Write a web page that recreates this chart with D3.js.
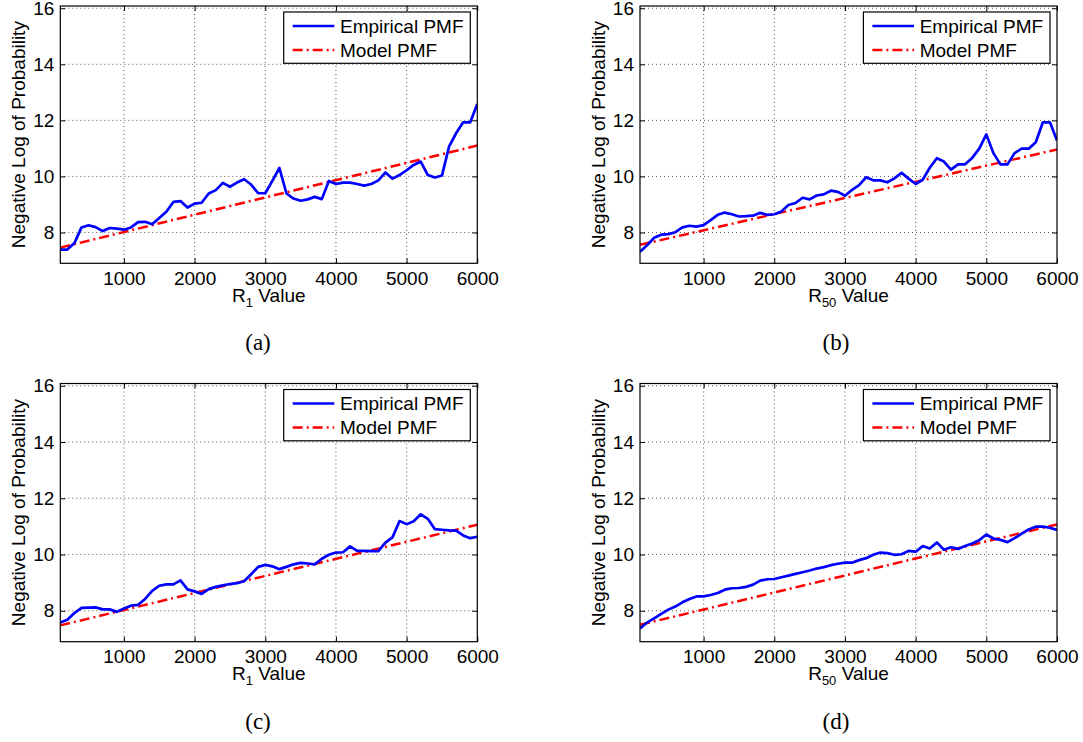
<!DOCTYPE html>
<html>
<head>
<meta charset="utf-8">
<script src="https://cdn.jsdelivr.net/npm/d3@7"></script>
<style>
  html, body { margin: 0; padding: 0; background: #fff; }
  svg { display: block; }
  text { font-family: "Liberation Sans", Arial, Helvetica, sans-serif; fill: #000; }
</style>
</head>
<body>
<svg id="chart" width="1083" height="742"></svg>
<script>
// ---------- data ----------
const rValues = [100,200,300,400,500,600,700,800,900,1000,
  1100,1200,1300,1400,1500,1600,1700,1800,1900,2000,
  2100,2200,2300,2400,2500,2600,2700,2800,2900,3000,
  3100,3200,3300,3400,3500,3600,3700,3800,3900,4000,
  4100,4200,4300,4400,4500,4600,4700,4800,4900,5000,
  5100,5200,5300,5400,5500,5600,5700,5800,5900,6000];

const empiricalA = [7.39,7.39,7.62,8.18,8.26,8.19,8.05,8.16,8.14,8.10,
  8.18,8.37,8.38,8.29,8.52,8.74,9.09,9.12,8.89,9.03,
  9.06,9.39,9.51,9.77,9.63,9.78,9.90,9.71,9.40,9.40,
  9.84,10.30,9.39,9.21,9.13,9.18,9.27,9.19,9.84,9.73,
  9.78,9.78,9.73,9.67,9.73,9.86,10.14,9.92,10.05,10.22,
  10.41,10.53,10.05,9.96,10.03,11.06,11.54,11.93,11.93,12.58];

const empiricalB = [7.31,7.54,7.81,7.92,7.94,8.01,8.18,8.24,8.21,8.26,
  8.44,8.63,8.71,8.65,8.57,8.58,8.60,8.70,8.63,8.65,
  8.75,8.98,9.05,9.24,9.18,9.32,9.36,9.49,9.45,9.31,
  9.52,9.69,9.97,9.86,9.86,9.79,9.93,10.13,9.92,9.73,
  9.88,10.31,10.65,10.53,10.24,10.43,10.43,10.66,10.99,11.50,
  10.83,10.43,10.43,10.83,10.99,10.99,11.22,11.93,11.93,11.28];

const empiricalC = [7.58,7.68,7.92,8.10,8.11,8.12,8.05,8.05,7.96,8.08,
  8.18,8.21,8.42,8.71,8.89,8.94,8.94,9.08,8.76,8.69,
  8.60,8.77,8.85,8.90,8.95,8.98,9.05,9.30,9.56,9.63,
  9.58,9.48,9.56,9.65,9.70,9.68,9.65,9.85,9.99,10.07,
  10.08,10.29,10.13,10.13,10.12,10.12,10.42,10.61,11.19,11.08,
  11.18,11.43,11.27,10.90,10.88,10.86,10.85,10.68,10.58,10.63];

const empiricalD = [7.37,7.58,7.73,7.89,8.04,8.15,8.30,8.42,8.51,8.51,
  8.56,8.63,8.75,8.80,8.81,8.85,8.93,9.07,9.12,9.13,
  9.19,9.25,9.31,9.37,9.43,9.50,9.55,9.62,9.67,9.71,
  9.71,9.80,9.87,9.99,10.07,10.05,9.99,10.01,10.13,10.10,
  10.30,10.21,10.43,10.17,10.26,10.20,10.30,10.39,10.51,10.71,
  10.57,10.52,10.44,10.58,10.74,10.89,10.99,10.99,10.95,10.87];

const modelX = [100, 6000];
const modelA = [7.46, 11.10];
const modelB = [7.56, 10.96];
const modelC = [7.48, 11.06];
const modelD = [7.50, 11.07];

const xTicks = [1000, 2000, 3000, 4000, 5000, 6000];
const yTicks = [8, 10, 12, 14, 16];
const seriesNames = ["Empirical PMF", "Model PMF"];
const xLabelSub = ["1", "50", "1", "50"];
const captions = ["(a)", "(b)", "(c)", "(d)"];
const yLabel = "Negative Log of Probability";

// ---------- layout ----------
const svg = d3.select("#chart");
const panels = [
  { emp: empiricalA, model: modelA, sub: xLabelSub[0], cap: captions[0], left: 60.3, right: 477.3, top: 6, bottom: 263.3, capX: 258, capY: 350 },
  { emp: empiricalB, model: modelB, sub: xLabelSub[1], cap: captions[1], left: 640, right: 1057, top: 6, bottom: 263.3, capX: 836, capY: 350 },
  { emp: empiricalC, model: modelC, sub: xLabelSub[2], cap: captions[2], left: 60.3, right: 477.3, top: 383.5, bottom: 641.7, capX: 258, capY: 729 },
  { emp: empiricalD, model: modelD, sub: xLabelSub[3], cap: captions[3], left: 640, right: 1057, top: 383.5, bottom: 641.7, capX: 836, capY: 729 }
];

panels.forEach(p => {
  const x = d3.scaleLinear().domain([100, 6000]).range([p.left, p.right]);
  const y = d3.scaleLinear().domain([6.9, 16.08]).range([p.bottom, p.top]);
  const g = svg.append("g");

  g.append("rect").attr("x", p.left).attr("y", p.top)
    .attr("width", p.right - p.left).attr("height", p.bottom - p.top)
    .attr("fill", "#fff");

  // grid
  const grid = g.append("g").attr("stroke", "#444").attr("stroke-width", 0.9)
    .attr("stroke-dasharray", "1,3");
  xTicks.filter(t => t < 6000).forEach(t => {
    grid.append("line").attr("x1", x(t)).attr("x2", x(t))
      .attr("y1", p.top).attr("y2", p.bottom);
  });
  yTicks.forEach(t => {
    grid.append("line").attr("x1", p.left).attr("x2", p.right)
      .attr("y1", y(t)).attr("y2", y(t));
  });

  const fs = "19px";
  const xAxis = g.append("g").attr("transform", `translate(0,${p.bottom})`)
    .call(d3.axisBottom(x).tickValues(xTicks).tickSizeInner(-5).tickSizeOuter(0).tickPadding(8).tickFormat(d3.format("d")));
  const yAxis = g.append("g").attr("transform", `translate(${p.left},0)`)
    .call(d3.axisLeft(y).tickValues(yTicks).tickSizeInner(-5).tickSizeOuter(0).tickPadding(6).tickFormat(d3.format("d")));
  const xAxisTop = g.append("g").attr("transform", `translate(0,${p.top})`)
    .call(d3.axisTop(x).tickValues(xTicks).tickSizeInner(-5).tickSizeOuter(0).tickFormat(""));
  const yAxisRight = g.append("g").attr("transform", `translate(${p.right},0)`)
    .call(d3.axisRight(y).tickValues(yTicks).tickSizeInner(-5).tickSizeOuter(0).tickFormat(""));
  [xAxis, yAxis, xAxisTop, yAxisRight].forEach(a => {
    a.select(".domain").remove();
    a.selectAll("line").attr("stroke", "#000").attr("stroke-width", 1);
    a.selectAll("text").style("font-size", fs).style("font-family", '"Liberation Sans", Arial, sans-serif').attr("fill", "#000");
  });

  const clipId = "clip" + p.cap.replace(/[()]/g, "");
  svg.append("clipPath").attr("id", clipId).append("rect")
    .attr("x", p.left).attr("y", p.top).attr("width", p.right - p.left).attr("height", p.bottom - p.top);

  const line = d3.line().x(d => x(d[0])).y(d => y(d[1]));
  g.append("path").datum(modelX.map((v, i) => [v, p.model[i]]))
    .attr("clip-path", `url(#${clipId})`)
    .attr("d", line).attr("fill", "none").attr("stroke", "#ff0000")
    .attr("stroke-width", 2.5).attr("stroke-dasharray", "10,4,2,4");

  g.append("path").datum(rValues.map((v, i) => [v, p.emp[i]]))
    .attr("clip-path", `url(#${clipId})`)
    .attr("d", line).attr("fill", "none").attr("stroke", "#0000ff")
    .attr("stroke-width", 2.7).attr("stroke-linejoin", "round");

  g.append("rect").attr("x", p.left).attr("y", p.top)
    .attr("width", p.right - p.left).attr("height", p.bottom - p.top)
    .attr("fill", "none").attr("stroke", "#000").attr("stroke-width", 1.2);

  // legend
  const lx = p.right - 193.6, ly = p.top + 6;
  const leg = g.append("g");
  leg.append("rect").attr("x", lx).attr("y", ly).attr("width", 186.6).attr("height", 51.3)
    .attr("fill", "#fff").attr("stroke", "#000").attr("stroke-width", 1.2);
  leg.append("line").attr("x1", lx + 9).attr("x2", lx + 50.6)
    .attr("y1", ly + 14).attr("y2", ly + 14)
    .attr("stroke", "#0000ff").attr("stroke-width", 2.7);
  leg.append("line").attr("x1", lx + 9).attr("x2", lx + 50.6)
    .attr("y1", ly + 38).attr("y2", ly + 38)
    .attr("stroke", "#ff0000").attr("stroke-width", 2.5).attr("stroke-dasharray", "10,4,2,4");
  leg.append("text").attr("x", lx + 56.3).attr("y", ly + 14).attr("dy", "0.35em")
    .style("font-size", fs).text(seriesNames[0]);
  leg.append("text").attr("x", lx + 56.3).attr("y", ly + 38).attr("dy", "0.35em")
    .style("font-size", fs).text(seriesNames[1]);

  // y label
  const cy = (p.top + p.bottom) / 2;
  g.append("text").attr("transform", `translate(${p.left - 42},${cy}) rotate(-90)`)
    .attr("text-anchor", "middle").attr("dy", "0.35em")
    .style("font-size", fs).text(yLabel);

  // x label
  const cx = (p.left + p.right) / 2;
  const xl = g.append("text").attr("x", cx).attr("y", p.bottom + 38.5)
    .attr("text-anchor", "middle").style("font-size", fs);
  xl.append("tspan").text("R");
  xl.append("tspan").attr("dy", 5).style("font-size", "13px").text(p.sub);
  xl.append("tspan").attr("dy", -5).text(" Value");

  // caption
  g.append("text").attr("x", p.capX).attr("y", p.capY).attr("text-anchor", "middle")
    .style("font-family", '"Liberation Serif", "Times New Roman", serif').style("font-size", "23px")
    .text(p.cap);
});
</script>
</body>
</html>
